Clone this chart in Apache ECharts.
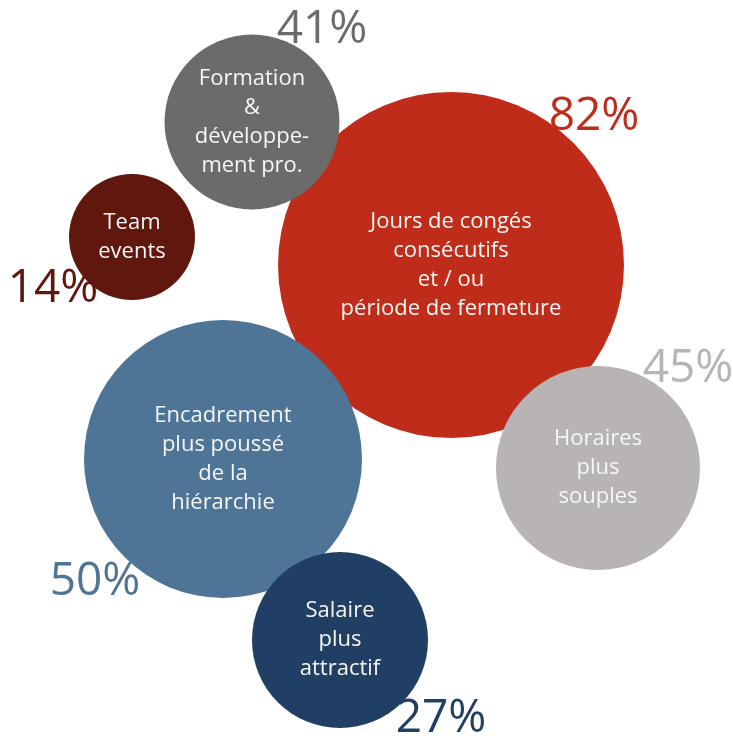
<!DOCTYPE html>
<html>
<head>
<meta charset="utf-8">
<script src="https://cdn.jsdelivr.net/npm/echarts@6/dist/echarts.min.js"></script>
<style>html,body{margin:0;padding:0;background:#fff;}#c{width:733px;height:736px;}</style>
</head>
<body>
<div id="c"></div>
<script>
// Data
var categories = [
  'Jours de congés\nconsécutifs\net / ou\npériode de fermeture',
  'Horaires\nplus\nsouples',
  'Encadrement\nplus poussé\nde la\nhiérarchie',
  'Salaire\nplus\nattractif',
  'Formation\n&\ndéveloppe-\nment pro.',
  'Team\nevents'
];
var values = [82, 45, 50, 27, 41, 14];
// bubble layout (layout units)
var layoutX = [451, 598, 223, 340, 252, 132];
var layoutY = [265, 468, 459, 640, 122, 237];
var bubbleSize = [346, 204, 278, 176, 175, 126];

// Styles
var colors = ['#BF2D1A', '#B7B4B3', '#4E7496', '#213F64', '#6B6B6B', '#60170D'];
var pctOffsets = [[143, -148], [90, -99], [-128, 123], [101, 79], [70, -92], [-79, 52]];

var bubbleData = categories.map(function (c, i) {
  return {
    name: c,
    value: [layoutX[i], layoutY[i], bubbleSize[i], values[i]],
    itemStyle: { color: colors[i], opacity: 1 }
  };
});
var pctData = categories.map(function (c, i) {
  return {
    name: c,
    value: [layoutX[i], layoutY[i], 0, values[i]],
    itemStyle: { opacity: 1 },
    label: { offset: pctOffsets[i], color: colors[i] }
  };
});

var chart = echarts.init(document.getElementById('c'), null, { renderer: 'canvas' });
chart.setOption({
  animation: false,
  grid: { left: 0, top: 0, width: 733, height: 736 },
  xAxis: { type: 'value', min: 0, max: 733, show: false },
  yAxis: { type: 'value', min: 0, max: 736, inverse: true, show: false },
  series: [
    {
      type: 'scatter',
      silent: true,
      data: bubbleData,
      symbolSize: function (v) { return v[2]; },
      itemStyle: { opacity: 1 },
      label: {
        show: true,
        position: 'inside',
        formatter: function (p) { return p.name; },
        color: '#F6F6F6',
        fontFamily: 'Open Sans',
        fontSize: 22,
        lineHeight: 29,
        align: 'center'
      },
      z: 2
    },
    {
      type: 'scatter',
      silent: true,
      data: pctData,
      symbolSize: 0,
      itemStyle: { opacity: 1 },
      label: {
        show: true,
        position: 'inside',
        formatter: function (p) { return p.value[3] + '%'; },
        fontFamily: 'Open Sans',
        fontSize: 46,
        fontWeight: 500
      },
      z: 5
    }
  ]
});
</script>
</body>
</html>
